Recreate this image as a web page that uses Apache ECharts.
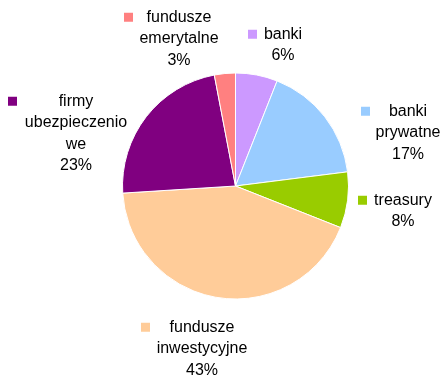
<!DOCTYPE html>
<html>
<head>
<meta charset="utf-8">
<script src="https://cdn.jsdelivr.net/npm/echarts@6/dist/echarts.min.js"></script>
<style>
  html, body { margin: 0; padding: 0; background: #fff; }
  #chart { width: 442px; height: 380px; }
</style>
</head>
<body>
<div id="chart"></div>
<script>
// Holders' shares, clockwise from 12 o'clock
const categories = [
  'banki',
  'banki\nprywatne',
  'treasury',
  'fundusze\ninwestycyjne',
  'firmy\nubezpieczenio\nwe',
  'fundusze\nemerytalne'
];
const shares = [6, 17, 8, 43, 23, 3];
const colors = ['#CC99FF', '#99CCFF', '#99CC00', '#FFCC99', '#800080', '#FF8080'];

// Label boxes: top-left anchor of the marker line and width of the text column
const labelBoxes = [
  { x: 248, y: 23.5, w: 52 },
  { x: 361, y: 100.5, w: 76 },
  { x: 358, y: 189.5, w: 72 },
  { x: 141, y: 316.5, w: 104 },
  { x: 8,   y: 90.5,  w: 118 },
  { x: 124, y: 6.5,   w: 92 }
];

const LINE_H = 21.5;
const FONT = '"Liberation Sans", Arial, sans-serif';

const data = categories.map((name, i) => {
  const rich = {
    m: { width: 9, height: 9, backgroundColor: colors[i] },
    s: { width: 9, height: 9 },
    t: {
      width: labelBoxes[i].w, align: 'center',
      fontSize: 16, fontFamily: FONT, color: '#000', lineHeight: LINE_H
    }
  };
  return {
    name,
    value: shares[i],
    itemStyle: { color: colors[i] },
    label: { rich }
  };
});

const chart = echarts.init(document.getElementById('chart'), null, { renderer: 'canvas' });
chart.setOption({
  backgroundColor: '#fff',
  animation: false,
  series: [{
    type: 'pie',
    center: [235.5, 186],
    radius: 113,
    startAngle: 90,
    clockwise: true,
    avoidLabelOverlap: false,
    itemStyle: { borderColor: '#fff', borderWidth: 1 },
    label: {
      show: true,
      position: 'outside',
      lineHeight: LINE_H,
      formatter: (p) => {
        const lines = p.name.split('\n').concat([p.value + '%']);
        return lines.map((l, k) => (k === 0 ? '{m|}' : '{s|}') + '{t|' + l + '}').join('\n');
      }
    },
    labelLine: { show: false },
    labelLayout: (p) => {
      const b = labelBoxes[p.dataIndex];
      return { x: b.x, y: b.y, align: 'left', verticalAlign: 'top' };
    },
    emphasis: { disabled: true },
    data
  }]
});
</script>
</body>
</html>
